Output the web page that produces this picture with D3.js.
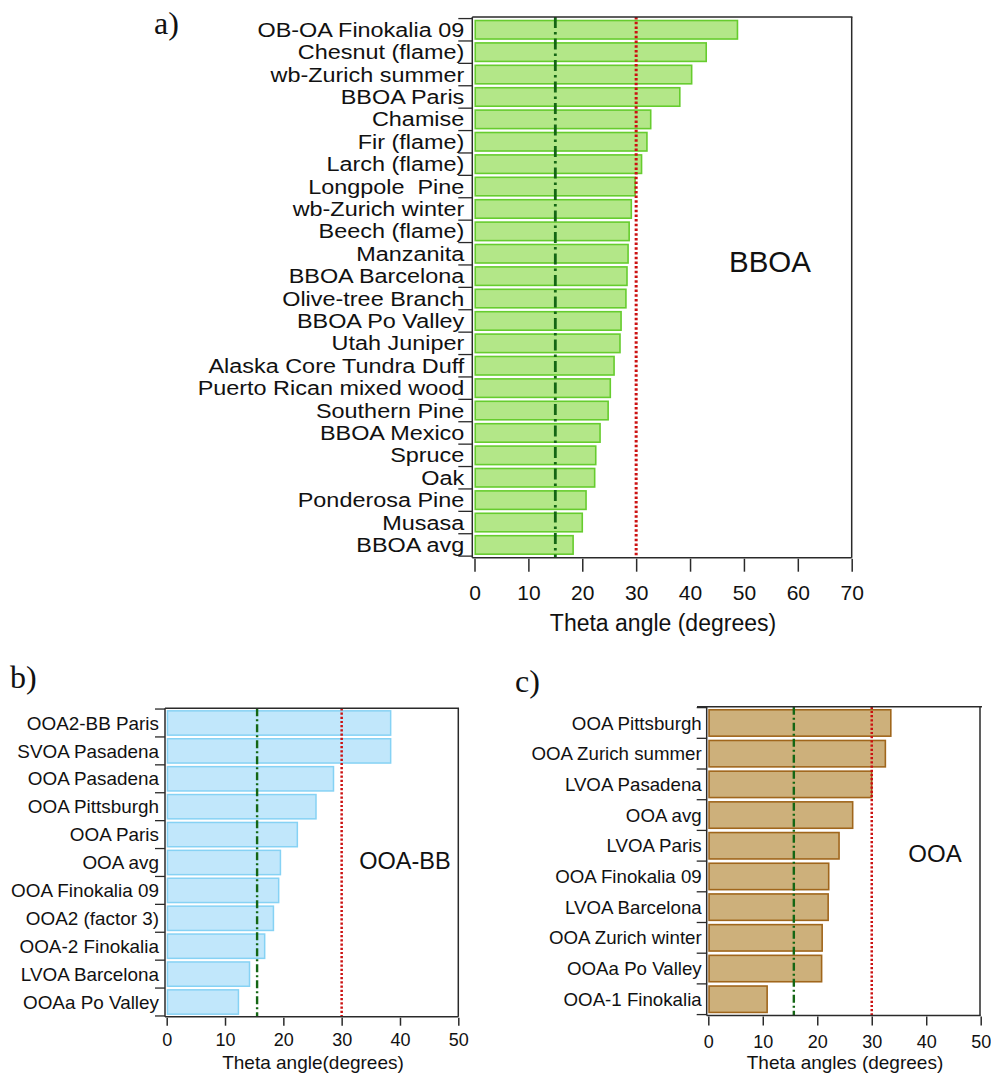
<!DOCTYPE html>
<html>
<head>
<meta charset="utf-8">
<script src="https://cdn.jsdelivr.net/npm/d3@7"></script>
<style>
  html, body { margin: 0; padding: 0; background: #fff; }
  svg { display: block; }
  text { font-family: "Liberation Sans", Arial, sans-serif; fill: #111; }
  .letter { font-family: "Liberation Serif", "Times New Roman", serif; }
</style>
</head>
<body>
<svg id="chart" width="991" height="1075"></svg>
<script>
// ---------- DATA ----------
const catsA = ["OB-OA Finokalia 09", "Chesnut (flame)", "wb-Zurich summer", "BBOA Paris", "Chamise",
  "Fir (flame)", "Larch (flame)", "Longpole  Pine", "wb-Zurich winter", "Beech (flame)", "Manzanita",
  "BBOA Barcelona", "Olive-tree Branch", "BBOA Po Valley", "Utah Juniper", "Alaska Core Tundra Duff",
  "Puerto Rican mixed wood", "Southern Pine", "BBOA Mexico", "Spruce", "Oak", "Ponderosa Pine",
  "Musasa", "BBOA avg"];
const valsA = [48.8, 43.0, 40.3, 38.1, 32.7, 32.0, 31.0, 29.8, 29.1, 28.7, 28.5, 28.3, 28.1,
  27.2, 27.0, 25.9, 25.2, 24.8, 23.3, 22.5, 22.3, 20.7, 20.0, 18.3];

const catsB = ["OOA2-BB Paris", "SVOA Pasadena", "OOA Pasadena", "OOA Pittsburgh", "OOA Paris",
  "OOA avg", "OOA Finokalia 09", "OOA2 (factor 3)", "OOA-2 Finokalia", "LVOA Barcelona", "OOAa Po Valley"];
const valsB = [38.4, 38.4, 28.6, 25.6, 22.4, 19.5, 19.2, 18.3, 16.8, 14.2, 12.3];

const catsC = ["OOA Pittsburgh", "OOA Zurich summer", "LVOA Pasadena", "OOA avg", "LVOA Paris",
  "OOA Finokalia 09", "LVOA Barcelona", "OOA Zurich winter", "OOAa Po Valley", "OOA-1 Finokalia"];
const valsC = [33.5, 32.5, 30.0, 26.5, 24.0, 22.1, 22.0, 20.9, 20.8, 10.8];

const ticksA = [0, 10, 20, 30, 40, 50, 60, 70];
const ticksBC = [0, 10, 20, 30, 40, 50];
const greenRef = [15.0, 15.5, 15.7];
const redRef = 30;
const titles = ["Theta angle (degrees)", "Theta angle(degrees)", "Theta angles (degrees)"];
const tags = ["BBOA", "OOA-BB", "OOA"];
const letters = ["a)", "b)", "c)"];

// ---------- DRAW ----------
const svg = d3.select("#chart");
const axisColor = "#2a2a2a";

function panel(cfg) {
  const g = svg.append("g");
  const x = d3.scaleLinear().domain(cfg.domain).range([cfg.x0, cfg.x1]);
  const y = d3.scaleBand().domain(cfg.cats).range([cfg.top, cfg.bottom])
    .paddingInner(cfg.pi).paddingOuter(cfg.po);
  const gap = y.step() * cfg.pi / 2;

  // bars
  g.selectAll("rect.bar").data(cfg.cats.map((c, i) => ({ c, v: cfg.vals[i] })))
    .enter().append("rect")
    .attr("x", x(0) + 0.75)
    .attr("y", d => y(d.c))
    .attr("width", d => x(d.v) - x(0) - 0.75)
    .attr("height", y.bandwidth())
    .attr("fill", cfg.fill)
    .attr("stroke", cfg.stroke)
    .attr("stroke-width", cfg.sw);

  // reference lines
  g.append("line")
    .attr("x1", x(cfg.green)).attr("x2", x(cfg.green))
    .attr("y1", cfg.top).attr("y2", cfg.bottom)
    .attr("stroke", "#146614").attr("stroke-width", cfg.lw)
    .attr("stroke-dasharray", cfg.dashDot);
  g.append("line")
    .attr("x1", x(redRef)).attr("x2", x(redRef))
    .attr("y1", cfg.top).attr("y2", cfg.bottom)
    .attr("stroke", "#cc1111").attr("stroke-width", cfg.rw)
    .attr("stroke-dasharray", cfg.dot);

  // frame
  g.append("line").attr("x1", cfg.left).attr("x2", cfg.left)
    .attr("y1", cfg.top).attr("y2", cfg.bottom)
    .attr("stroke", axisColor).attr("stroke-width", 1.5);
  g.append("line").attr("x1", cfg.topX1).attr("x2", cfg.topX2)
    .attr("y1", cfg.top).attr("y2", cfg.top)
    .attr("stroke", axisColor).attr("stroke-width", 1.5);
  g.append("line").attr("x1", cfg.right).attr("x2", cfg.right)
    .attr("y1", cfg.top).attr("y2", cfg.bottom)
    .attr("stroke", axisColor).attr("stroke-width", 1.5);
  g.append("line").attr("x1", cfg.left).attr("x2", cfg.x1)
    .attr("y1", cfg.bottom).attr("y2", cfg.bottom)
    .attr("stroke", axisColor).attr("stroke-width", 1.5);

  // category ticks (at band boundaries)
  const bounds = cfg.cats.map(c => y(c) - gap);
  bounds.push(y(cfg.cats[cfg.cats.length - 1]) + y.bandwidth() + gap);
  g.selectAll("line.ctick").data(bounds).enter().append("line")
    .attr("x1", cfg.left - cfg.ctick).attr("x2", cfg.left)
    .attr("y1", d => d).attr("y2", d => d)
    .attr("stroke", axisColor).attr("stroke-width", 1.3);

  // category labels
  g.selectAll("text.cat").data(cfg.cats).enter().append("text")
    .attr("x", cfg.left - cfg.lgap)
    .attr("y", d => y(d) + y.bandwidth() / 2)
    .attr("dy", "0.36em")
    .attr("text-anchor", "end")
    .style("font-size", cfg.lfont + "px")
    .style("white-space", "pre")
    .attr("xml:space", "preserve")
    .text(d => d)
    .each(function () {
      if (cfg.stretch !== 1) {
        const w = this.getComputedTextLength();
        d3.select(this).attr("textLength", w * cfg.stretch)
          .attr("lengthAdjust", "spacingAndGlyphs");
      }
    });

  // x axis (d3 axis)
  const ax = g.append("g")
    .attr("transform", `translate(0,${cfg.bottom + 1})`)
    .call(d3.axisBottom(x).tickValues(cfg.ticks).tickSize(cfg.xtick).tickSizeOuter(0)
      .tickPadding(cfg.tpad));
  ax.select(".domain").remove();
  ax.selectAll(".tick line").attr("stroke", axisColor).attr("stroke-width", 1.5);
  ax.selectAll(".tick text")
    .style("font-size", cfg.tfont + "px")
    .style("font-family", "'Liberation Sans', Arial, sans-serif")
    .attr("fill", "#111");

  // axis title
  g.append("text")
    .attr("x", cfg.titleX).attr("y", cfg.titleY)
    .attr("text-anchor", "middle")
    .style("font-size", cfg.titleFont + "px")
    .text(cfg.title);

  // tag
  g.append("text")
    .attr("x", cfg.tagX).attr("y", cfg.tagY)
    .attr("dy", "0.36em")
    .attr("text-anchor", "middle")
    .style("font-size", cfg.tagFont + "px")
    .text(cfg.tag);

  // panel letter
  g.append("text").attr("class", "letter")
    .attr("x", cfg.letX).attr("y", cfg.letY)
    .style("font-size", cfg.letFont + "px")
    .text(cfg.letter);
}

panel({
  cats: catsA, vals: valsA, domain: [0, 70], ticks: ticksA,
  x0: 474.5, x1: 851.7, left: 472.3, right: 851.7, top: 17, bottom: 557.7,
  topX1: 472.3, topX2: 852.4,
  pi: 0.174, po: 0.157,
  fill: "#b3e788", stroke: "#66cc2e", sw: 1.6,
  green: greenRef[0], lw: 2.8, rw: 3, dashDot: "11,4,2.5,4", dot: "2.5,2.2",
  ctick: 14, lgap: 8, lfont: 19.5, stretch: 1.2,
  xtick: 13, tpad: 13, tfont: 21,
  title: titles[0], titleX: 663, titleY: 631, titleFont: 23,
  tag: tags[0], tagX: 770, tagY: 261, tagFont: 29.5,
  letter: letters[0], letX: 154, letY: 34, letFont: 32
});

panel({
  cats: catsB, vals: valsB, domain: [0, 50], ticks: ticksBC,
  x0: 166.7, x1: 458.3, left: 165, right: 458.3, top: 708.3, bottom: 1016.7,
  topX1: 165, topX2: 459,
  pi: 0.129, po: 0.091,
  fill: "#c1e7fb", stroke: "#86d2f4", sw: 1.5,
  green: greenRef[1], lw: 2.4, rw: 2.5, dashDot: "8,3,2,3", dot: "2.2,2",
  ctick: 10, lgap: 6, lfont: 18.5, stretch: 1.02,
  xtick: 8, tpad: 8, tfont: 18,
  title: titles[1], titleX: 313, titleY: 1068.5, titleFont: 19,
  tag: tags[1], tagX: 405, tagY: 861, tagFont: 23.5,
  letter: letters[1], letX: 10, letY: 688, letFont: 32
});

panel({
  cats: catsC, vals: valsC, domain: [0, 50], ticks: ticksBC,
  x0: 708.3, x1: 980.7, left: 706.7, right: 980, top: 706.7, bottom: 1015.5,
  topX1: 697, topX2: 982,
  pi: 0.14, po: 0.1,
  fill: "#cdb07b", stroke: "#a0661c", sw: 1.6,
  green: greenRef[2], lw: 2.4, rw: 2.5, dashDot: "8,3,2,3", dot: "2.2,2",
  ctick: 10, lgap: 5, lfont: 18.5, stretch: 1.01,
  xtick: 9, tpad: 9.5, tfont: 18,
  title: titles[2], titleX: 845, titleY: 1069, titleFont: 19,
  tag: tags[2], tagX: 935, tagY: 853, tagFont: 24,
  letter: letters[2], letX: 515, letY: 692, letFont: 32
});
</script>
</body>
</html>
